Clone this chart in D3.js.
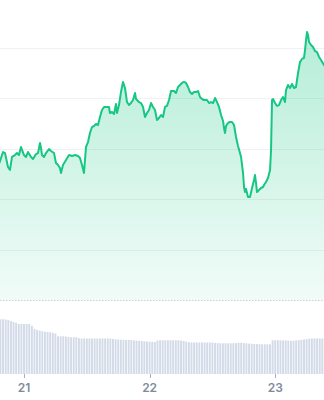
<!DOCTYPE html>
<html>
<head>
<meta charset="utf-8">
<script src="https://cdn.jsdelivr.net/npm/d3@7"></script>
<style>
    html, body { margin: 0; padding: 0; background: #fff; }
    svg { display: block; }
</style>
</head>
<body>
<div id="chart"></div>
<script>
    'use strict';

    // days shown on the time axis
    var tickDays = [21, 22, 23];

    // price samples: hours since the 21st 00:00, and price
    var priceHours = [
        -4.7, -4.01, -3.63, -3.06, -2.68, -2.29, -1.72, -1.34, -0.96, -0.57,
        0, 0.38, 0.76, 1.34, 1.72, 2.29, 2.68, 3.06, 3.25, 3.44,
        3.82, 4.2, 4.78, 5.16, 5.73, 6.11, 6.5, 6.88, 7.07, 7.45,
        8.03, 8.6, 9.17, 9.75, 10.32, 10.7, 11.08, 11.46, 11.85, 12.23,
        12.61, 12.99, 13.38, 13.76, 14.14, 14.52, 14.9, 15.29, 15.86, 16.24,
        16.43, 16.82, 17.2, 17.58, 17.77, 18.15, 18.53, 18.92, 19.3, 19.68,
        20.06, 20.45, 20.83, 21.21, 21.4, 21.97, 22.36, 22.74, 23.12, 23.5,
        23.89, 24.27, 24.65, 25.03, 25.41, 25.8, 26.18, 26.56, 26.94, 27.32,
        27.71, 28.09, 28.66, 29.04, 29.43, 29.81, 30.19, 30.57, 30.95, 31.34,
        31.72, 32.1, 32.48, 32.87, 33.25, 33.63, 34.01, 34.39, 34.97, 35.35,
        35.73, 36.12, 36.5, 36.88, 37.26, 37.65, 38.03, 38.22, 38.41, 38.6,
        38.98, 39.36, 39.75, 40.13, 40.51, 40.89, 41.27, 41.47, 41.85, 42.04,
        42.23, 42.42, 42.8, 43.18, 43.57, 43.95, 44.14, 44.33, 44.52, 44.91,
        45.29, 45.67, 45.86, 46.24, 46.62, 47.01, 47.2, 47.39, 47.58, 47.96,
        48.34, 48.72, 49.11, 49.49, 49.87, 50.06, 50.45, 50.83, 51.21, 51.59,
        51.97, 52.36, 52.74, 53.12, 53.5, 53.69, 53.89, 54.08, 54.27, 54.46,
        54.84, 55.22, 55.6, 55.99, 56.37, 56.75, 57.32, 57.9
    ];
    var priceValues = [
        136.4, 147.3, 146.3, 132.4, 129.5, 142.4, 144.3, 146.3, 144.3, 152.3,
        144.3, 142.4, 147.3, 142.4, 140.4, 145.3, 146.3, 156.2, 151.3, 144.3,
        142.4, 146.3, 150.3, 148.3, 146.3, 136.4, 134.4, 131.4, 126.5, 134.4,
        139.4, 144.3, 143.4, 144.3, 143.4, 141.4, 134.4, 126.5, 152.3, 157.2,
        166.2, 172.1, 173.1, 175.1, 174.1, 182.0, 189.0, 192.0, 192.0, 192.0,
        186.0, 187.0, 185.0, 194.9, 186.0, 193.9, 206.8, 216.8, 210.8, 196.9,
        193.9, 195.9, 198.9, 205.9, 199.9, 196.9, 195.9, 192.0, 182.0, 186.0,
        189.0, 195.9, 192.0, 189.0, 179.1, 181.1, 184.0, 182.0, 192.0, 193.0,
        198.9, 207.8, 207.8, 205.9, 211.8, 213.8, 215.8, 216.8, 215.8, 211.8,
        206.8, 204.9, 206.8, 206.8, 207.8, 201.9, 199.9, 198.9, 198.9, 195.9,
        196.9, 195.9, 200.9, 196.9, 192.0, 184.0, 178.1, 171.1, 166.2, 173.1,
        176.1, 177.1, 177.1, 174.1, 162.2, 153.3, 146.3, 142.4, 126.5, 112.6,
        107.6, 110.6, 102.7, 102.7, 111.6, 119.5, 124.5, 116.6, 107.6, 109.6,
        111.6, 112.6, 114.6, 117.6, 121.5, 129.5, 149.3, 198.9, 199.9, 195.9,
        193.0, 193.9, 198.9, 201.9, 196.9, 208.8, 213.8, 210.8, 214.8, 210.8,
        211.8, 225.7, 236.6, 239.6, 240.6, 248.5, 258.4, 266.4, 263.4, 256.4,
        253.5, 251.5, 247.5, 246.5, 241.6, 238.6, 233.6, 230.7
    ];

    // volume, one bar per half hour starting at -4.5 h
    var volumeStartHour = -4.5;
    var volumeStepHours = 0.5;
    var volumeValues = [
        54.7, 54.7, 54.5, 53.8, 53.0, 52.0, 51.2, 50.0, 50.0, 50.0,
        50.0, 50.0, 48.2, 45.2, 44.0, 43.4, 42.8, 42.3, 42.0, 41.7,
        41.2, 40.5, 37.7, 37.7, 37.7, 37.5, 37.0, 36.7, 36.7, 36.7,
        35.8, 35.5, 35.5, 35.5, 35.5, 35.5, 35.5, 35.5, 35.5, 35.5,
        35.5, 35.5, 35.4, 35.0, 34.7, 34.4, 34.3, 34.2, 34.1, 34.0,
        33.9, 33.6, 33.4, 33.1, 32.9, 32.7, 32.5, 32.3, 32.2, 32.0,
        33.5, 33.7, 33.7, 33.7, 33.7, 33.7, 33.7, 33.7, 33.7, 33.4,
        33.0, 32.3, 31.7, 31.5, 31.5, 31.5, 31.5, 31.5, 31.5, 31.5,
        31.5, 31.4, 31.0, 30.8, 30.7, 30.7, 30.7, 30.7, 30.7, 30.7,
        30.9, 31.2, 31.3, 31.0, 30.7, 30.4, 30.2, 30.0, 29.9, 29.8,
        29.7, 29.7, 29.7, 29.7, 33.7, 33.7, 33.7, 33.7, 33.7, 33.7,
        33.3, 33.0, 33.3, 33.6, 33.9, 34.2, 34.5, 34.9, 35.3, 35.5,
        35.5, 35.5, 35.5, 35.5
    ];

    var gridValues = [0, 50, 100, 150, 200, 250];

    var frame = { w: 324, h: 400 };
    var green = '#16c784';
    var day0 = Date.UTC(2024, 2, 21);

    function hourToDate(h) {
        return new Date(day0 + h * 3600e3);
    }

    var x = d3.scaleUtc()
        .domain([hourToDate(-4.585), hourToDate(57.32)])
        .range([0, frame.w]);

    var y = d3.scaleLinear()
        .domain([0, 250])
        .range([300.5, 48.5]);

    var yVol = d3.scaleLinear()
        .domain([0, 60])
        .range([374, 314]);

    var prices = priceHours.map(function (h, i) {
        return { date: hourToDate(h), value: priceValues[i] };
    });

    var volumes = volumeValues.map(function (v, i) {
        return { date: hourToDate(volumeStartHour + i * volumeStepHours), value: v };
    });

    var svg = d3.select('#chart').append('svg')
        .attr('width', frame.w)
        .attr('height', frame.h);

    var defs = svg.append('defs');
    var grad = defs.append('linearGradient')
        .attr('id', 'areaFill')
        .attr('gradientUnits', 'userSpaceOnUse')
        .attr('x1', 0).attr('x2', 0)
        .attr('y1', 30).attr('y2', 300);
    grad.append('stop').attr('offset', 0).attr('stop-color', green).attr('stop-opacity', 0.32);
    grad.append('stop').attr('offset', 1).attr('stop-color', green).attr('stop-opacity', 0.06);

    // grid
    svg.append('g')
        .selectAll('line')
        .data(gridValues.filter(function (v) { return v > 0; }))
        .enter().append('line')
        .attr('x1', 0).attr('x2', frame.w)
        .attr('y1', function (v) { return Math.floor(y(v)) + 0.5; })
        .attr('y2', function (v) { return Math.floor(y(v)) + 0.5; })
        .attr('stroke', '#eff2f5')
        .attr('stroke-width', 1);

    // area + line
    var area = d3.area()
        .x(function (d) { return x(d.date); })
        .y0(y(0))
        .y1(function (d) { return y(d.value); });

    var line = d3.line()
        .x(function (d) { return x(d.date); })
        .y(function (d) { return y(d.value); });

    svg.append('path')
        .datum(prices)
        .attr('d', area)
        .attr('fill', 'url(#areaFill)');

    // baseline (dotted)
    svg.append('line')
        .attr('x1', 0).attr('x2', frame.w)
        .attr('y1', Math.floor(y(0)) + 0.5).attr('y2', Math.floor(y(0)) + 0.5)
        .attr('stroke', '#c9d0dc')
        .attr('stroke-width', 1)
        .attr('stroke-dasharray', '1.5,1.5');

    svg.append('path')
        .datum(prices)
        .attr('d', line)
        .attr('fill', 'none')
        .attr('stroke', green)
        .attr('stroke-width', 2)
        .attr('stroke-linejoin', 'round');

    // volume bars
    var barW = 1.9;
    svg.append('g')
        .selectAll('rect')
        .data(volumes)
        .enter().append('rect')
        .attr('x', function (d) { return x(d.date) - barW / 2; })
        .attr('y', function (d) { return yVol(d.value); })
        .attr('width', barW)
        .attr('height', function (d) { return yVol(0) - yVol(d.value); })
        .attr('fill', '#d3dae8');

    // x axis
    var tickDates = tickDays.map(function (d) { return new Date(Date.UTC(2024, 2, d)); });
    var axis = svg.append('g');
    axis.selectAll('line')
        .data(tickDates)
        .enter().append('line')
        .attr('x1', function (d) { return Math.round(x(d)) + 0.5; })
        .attr('x2', function (d) { return Math.round(x(d)) + 0.5; })
        .attr('y1', 374).attr('y2', 378)
        .attr('stroke', '#a6b0c3');
    axis.selectAll('text')
        .data(tickDates)
        .enter().append('text')
        .attr('x', function (d) { return x(d); })
        .attr('y', 392)
        .attr('text-anchor', 'middle')
        .attr('font-family', 'Inter, sans-serif')
        .attr('font-size', 12)
        .attr('font-weight', 600)
        .attr('fill', '#808a9d')
        .text(d3.utcFormat('%-d'));
</script>
</body>
</html>
